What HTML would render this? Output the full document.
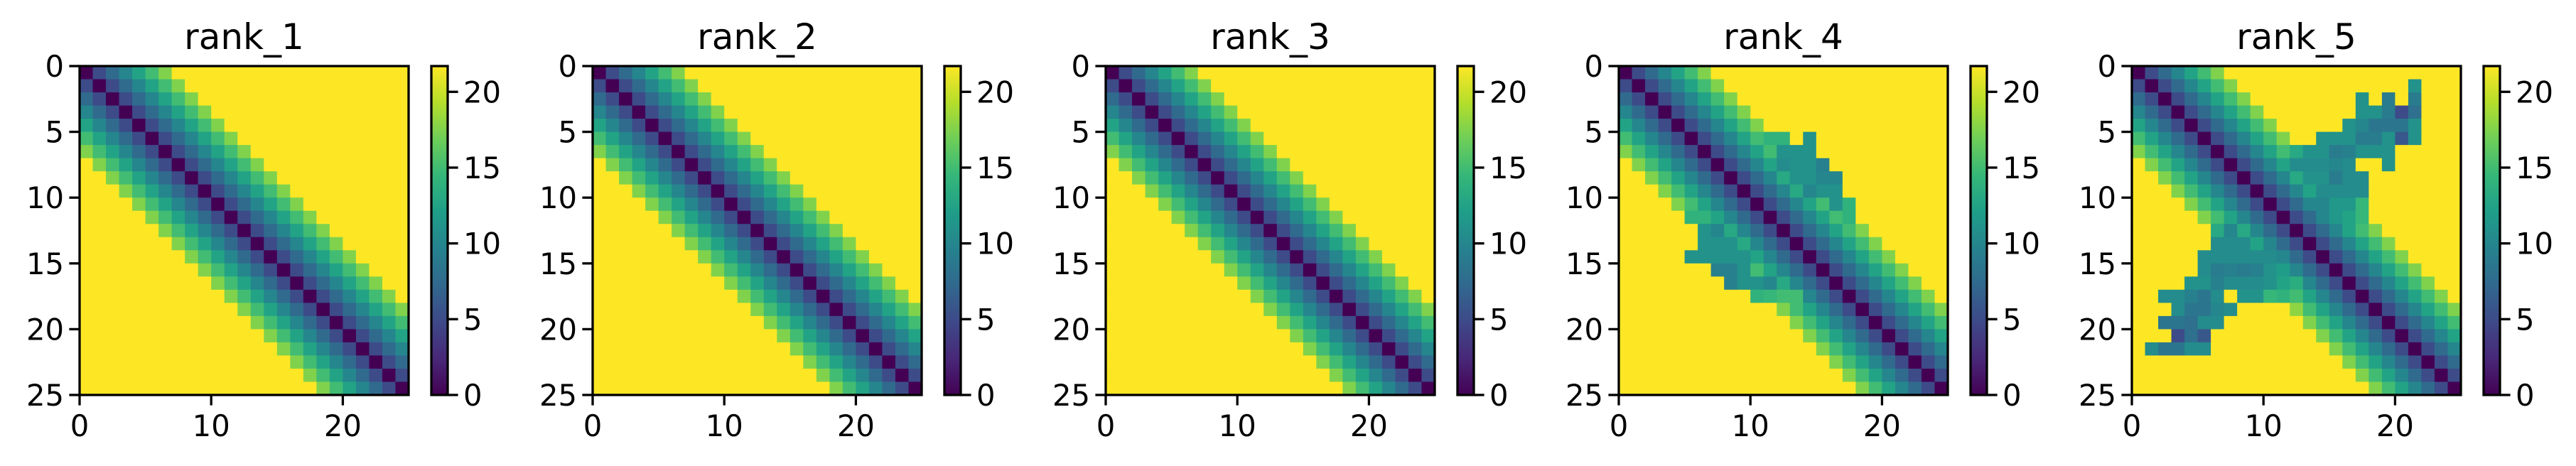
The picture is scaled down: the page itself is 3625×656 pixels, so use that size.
<!DOCTYPE html>
<html><head><meta charset="utf-8"><style>
html,body{margin:0;padding:0;background:#fff;}
svg{display:block;font-family:"DejaVu Sans","Liberation Sans",sans-serif;}
</style></head><body>
<svg id="fig" width="3625" height="656" viewBox="0 0 3625 656" xmlns="http://www.w3.org/2000/svg">
<defs>
<linearGradient id="vir" x1="0" y1="1" x2="0" y2="0">
<stop offset="0" stop-color="#440154"/><stop offset="0.111" stop-color="#482878"/><stop offset="0.222" stop-color="#3e4989"/><stop offset="0.333" stop-color="#31688e"/><stop offset="0.444" stop-color="#26828e"/><stop offset="0.556" stop-color="#1f9e89"/><stop offset="0.667" stop-color="#35b779"/><stop offset="0.778" stop-color="#6ece58"/><stop offset="0.889" stop-color="#b5de2b"/><stop offset="1" stop-color="#fde725"/>
</linearGradient>
</defs>
</svg>
<script>
const titles = ["rank_1","rank_2","rank_3","rank_4","rank_5"];
const N = 25;
const vmax = 21.7;
const distLevels = [0,5,7.5,10,12.5,15,17.5,21.7];
const yTicks = [0,5,10,15,20,25];
const xTicks = [0,10,20];
const cbTicks = [0,5,10,15,20];
// overrides [row, col, value]
const rank4Patch = [
[5,11,14],[5,12,14],[5,14,11],
[6,12,11],[6,13,11],[6,14,11],
[7,12,10.5],[7,13,11],[7,14,11],[7,15,9.5],
[8,12,13],[8,13,11],[8,14,11],[8,15,10],[8,16,10],
[9,13,13],[9,14,10],[9,15,11],[9,16,11],
[10,16,11],[10,17,14],
[11,5,14],[11,6,14],[11,17,14],
[12,6,11],[12,7,10],[12,8,13],[12,18,17.5],
[13,6,11],[13,7,11],[13,8,11],[13,9,13],
[14,5,11],[14,6,11],[14,7,11],[14,8,11],[14,9,11],
[15,7,9.5],[15,8,9.5],[15,9,11],
[16,8,9.5],[16,9,11],[16,10,11],[16,11,10],[16,12,13],
[17,10,14],[17,11,14.5],[17,12,15],[17,13,15]
];
const rank5Patch = [
[1,21,11],
[2,17,11],[2,19,9],[2,21,9],
[3,17,11],[3,18,11],[3,19,9],[3,20,5],[3,21,8],
[4,16,11],[4,17,10],[4,18,8.5],[4,19,8.5],[4,20,8.5],[4,21,11],
[5,14,11],[5,15,11],[5,16,11],[5,17,9],[5,18,9],[5,19,11],[5,20,6],[5,21,11],
[6,12,13],[6,13,11],[6,14,11],[6,15,9],[6,16,9.5],[6,17,11],[6,18,11],[6,19,11],
[7,12,10.5],[7,13,10.5],[7,14,10.5],[7,15,10],[7,16,10.5],[7,19,11],
[8,12,13],[8,13,11],[8,14,11],[8,15,9],[8,16,10.5],[8,17,10.5],
[9,13,12.5],[9,14,10.5],[9,15,10.5],[9,16,10.5],[9,17,10.5],
[10,14,10],[10,15,11.5],[10,16,11.5],[10,17,14.5],
[11,15,11.5],[11,16,12.5],[11,17,14.5],
[12,6,13],[12,7,10],[12,8,13],
[13,6,10.5],[13,7,10.5],[13,8,10.5],[13,9,12.5],
[14,5,10.5],[14,6,10.5],[14,7,10.5],[14,8,10.5],[14,9,10.5],[14,10,10.5],
[15,5,10.5],[15,6,9],[15,7,9.5],[15,8,9],[15,9,9.5],[15,10,11],[15,11,12],
[16,4,11],[16,5,11],[16,6,9.5],[16,7,10.5],[16,8,10.5],[16,9,10.5],[16,10,11],[16,11,12.5],[16,12,13.5],
[17,2,10.5],[17,3,10.5],[17,4,9.5],[17,5,8.5],[17,6,10.5],[17,8,11],[17,9,11],[17,10,14.5],[17,11,14],[17,12,15],
[18,3,10.5],[18,4,8.5],[18,5,8.5],[18,6,10],[18,7,10.5],[18,12,18],
[19,2,8.5],[19,3,8.5],[19,4,8],[19,5,10.5],[19,6,10.5],
[20,3,5],[20,4,8],[20,5,6],
[21,1,10.5],[21,2,8.5],[21,3,8.5],[21,4,10.5],[21,5,10.5]
];
const patches = [[],[],[],rank4Patch,rank5Patch];

const VIR = ["#440154","#482878","#3e4989","#31688e","#26828e","#1f9e89","#35b779","#6ece58","#b5de2b","#fde725"];
function hex(h){return [1,3,5].map(i=>parseInt(h.substr(i,2),16));}
function viridis(v){
  let t=Math.max(0,Math.min(1,v/vmax))*(VIR.length-1);
  let i=Math.min(Math.floor(t),VIR.length-2), f=t-i;
  const a=hex(VIR[i]), b=hex(VIR[i+1]);
  return "rgb("+a.map((x,k)=>Math.round(x+(b[k]-x)*f)).join(",")+")";
}
const NS="http://www.w3.org/2000/svg";
const svg=document.getElementById("fig");
function mk(tag,attrs,parent){const e=document.createElementNS(NS,tag);for(const k in attrs)e.setAttribute(k,attrs[k]);(parent||svg).appendChild(e);return e;}

const lefts=[112,834,1556,2278,3000];
const axTop=93, axSize=463, cbOff=495, cbW=23;
const FS=41.7;
titles.forEach((title,p)=>{
  const L=lefts[p];
  const g=mk("g",{});
  
  
  const xs=v=>L+v/N*axSize, ys=v=>axTop+v/N*axSize;
  const M=[];
  for(let r=0;r<N;r++){M.push([]);for(let c=0;c<N;c++){const d=Math.abs(r-c);M[r].push(distLevels[Math.min(d,distLevels.length-1)]);}}
  patches[p].forEach(([r,c,v])=>{M[r][c]=v;});
  const cells=mk("g",{},g);
  
  
  for(let r=0;r<N;r++)for(let c=0;c<N;c++){
    const x0=xs(c),y0=ys(r);
    const rc=mk("rect",{x:x0.toFixed(2),y:y0.toFixed(2),width:(xs(c+1)-x0+0.6).toFixed(2),height:(ys(r+1)-y0+0.6).toFixed(2),fill:viridis(M[r][c])},cells);
    
    
  }
  const fr=mk("rect",{x:L,y:axTop,width:axSize,height:axSize,fill:"none",stroke:"#000","stroke-width":3.3},g);
  
  
  const t=mk("text",{x:L+axSize/2,y:69,"text-anchor":"middle","font-size":50},g);
  t.textContent=title;
  
  
  yTicks.forEach(v=>{
    mk("line",{x1:L-14.6,x2:L,y1:ys(v),y2:ys(v),stroke:"#000","stroke-width":3.3},g);
    const tl=mk("text",{x:L-22,y:ys(v)+15,"text-anchor":"end","font-size":FS},g);
    tl.textContent=v;
    
    
  });
  xTicks.forEach(v=>{
    mk("line",{x1:xs(v),x2:xs(v),y1:axTop+axSize,y2:axTop+axSize+14.6,stroke:"#000","stroke-width":3.3},g);
    const tl=mk("text",{x:xs(v),y:axTop+axSize+58,"text-anchor":"middle","font-size":FS},g);
    tl.textContent=v;
    
    
  });
  const cx=L+cbOff;
  const cb=mk("rect",{x:cx,y:axTop,width:cbW,height:axSize,fill:"url(#vir)",stroke:"#000","stroke-width":3.3},g);
  
  
  const cy=v=>axTop+axSize-v/vmax*axSize;
  cbTicks.forEach(v=>{
    mk("line",{x1:cx+cbW,x2:cx+cbW+14.6,y1:cy(v),y2:cy(v),stroke:"#000","stroke-width":3.3},g);
    const tl=mk("text",{x:cx+cbW+22,y:cy(v)+15,"text-anchor":"start","font-size":FS},g);
    tl.textContent=v;
    
    
  });
});
</script>
</body></html>
